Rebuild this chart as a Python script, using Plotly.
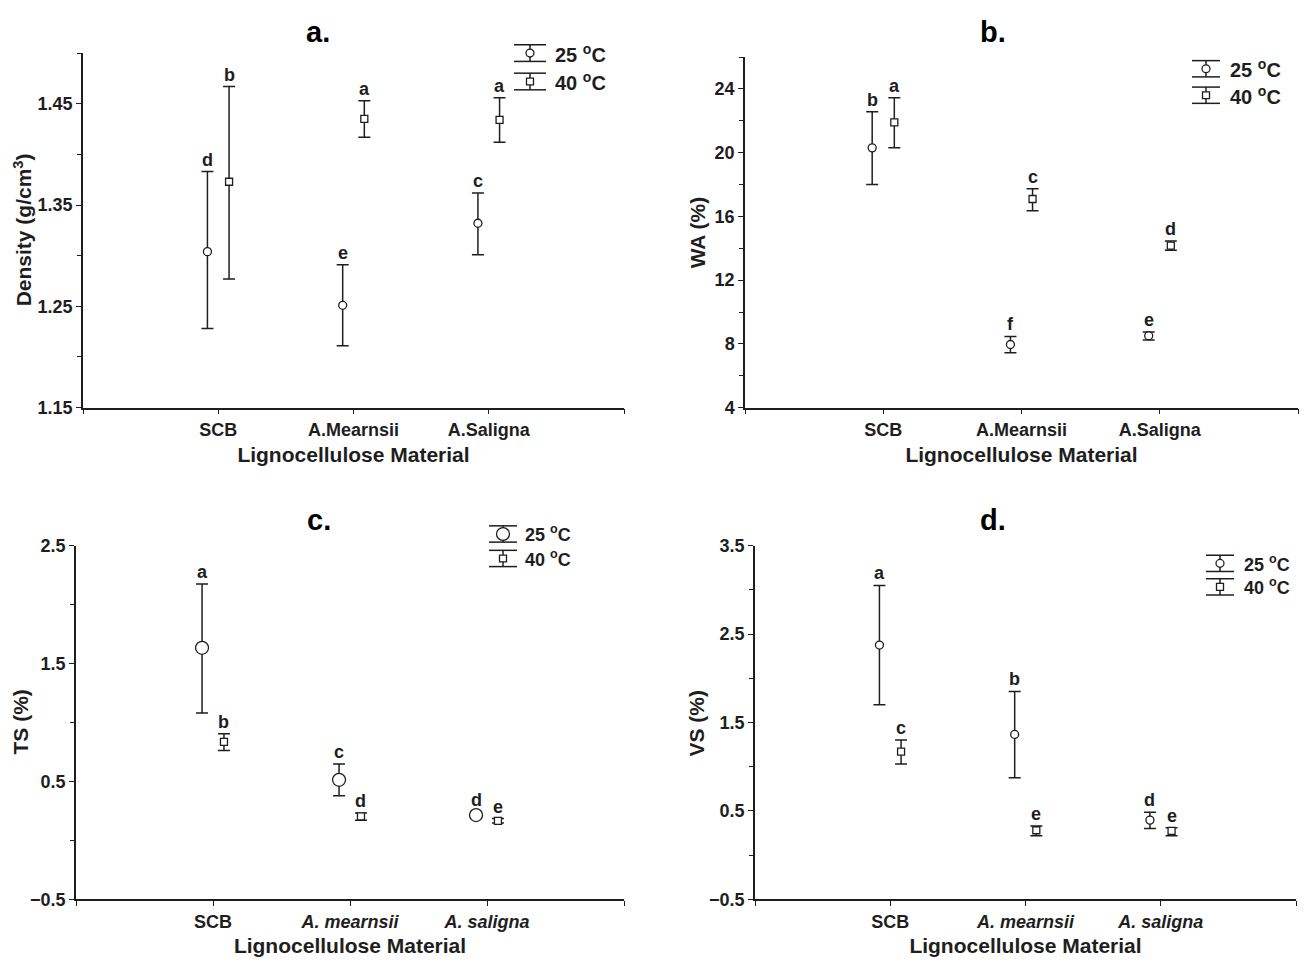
import plotly.graph_objects as go

W, H = 1306, 971
INK = "#1e1e1e"
FONT = "Liberation Sans, Arial, sans-serif"

# ---- data -------------------------------------------------------------
cats_top = ["SCB", "A.Mearnsii", "A.Saligna"]
cats_bottom = ["SCB", "<i>A. mearnsii</i>", "<i>A. saligna</i>"]

density_25 = [1.304, 1.251, 1.332]
density_25_hi = [1.383, 1.291, 1.362]
density_25_lo = [1.228, 1.211, 1.301]
density_40 = [1.373, 1.435, 1.434]
density_40_hi = [1.467, 1.453, 1.456]
density_40_lo = [1.277, 1.417, 1.412]
density_25_grp = ["d", "e", "c"]
density_40_grp = ["b", "a", "a"]

wa_25 = [20.3, 7.96, 8.51]
wa_25_hi = [22.57, 8.47, 8.74]
wa_25_lo = [18.0, 7.45, 8.25]
wa_40 = [21.9, 17.09, 14.17]
wa_40_hi = [23.45, 17.74, 14.46]
wa_40_lo = [20.3, 16.35, 13.87]
wa_25_grp = ["b", "f", "e"]
wa_40_grp = ["a", "c", "d"]

ts_25 = [1.634, 0.514, 0.215]
ts_25_hi = [2.176, 0.647, 0.240]
ts_25_lo = [1.081, 0.379, 0.190]
ts_40 = [0.835, 0.204, 0.166]
ts_40_hi = [0.904, 0.232, 0.185]
ts_40_lo = [0.763, 0.171, 0.147]
ts_25_grp = ["a", "c", "d"]
ts_40_grp = ["b", "d", "e"]

vs_25 = [2.376, 1.365, 0.396]
vs_25_hi = [3.051, 1.852, 0.484]
vs_25_lo = [1.701, 0.875, 0.300]
vs_40 = [1.170, 0.281, 0.274]
vs_40_hi = [1.303, 0.330, 0.310]
vs_40_lo = [1.030, 0.219, 0.219]
vs_25_grp = ["a", "b", "d"]
vs_40_grp = ["c", "e", "e"]

positions = [1, 2, 3]
shift = 0.08


def px(x, y):
    """pixel position -> paper coordinates"""
    return x / W, 1 - y / H


fig = go.Figure()

# pixel boxes of each plotting area (left, right, top, bottom)
panels = [
    dict(ax="", box=(83, 624, 44, 406), yr=[1.15, 1.50], dt=0.1, t0=1.15, mdt=0.05,
         cats=cats_top, ytitle="Density (g/cm<sup>3</sup>)", ytx=23, label="a.", lab_xy=(318, 22),
         s25=(density_25, density_25_hi, density_25_lo, density_25_grp),
         s40=(density_40, density_40_hi, density_40_lo, density_40_grp),
         csize=8, fmt=".2f",
         leg=dict(cx=530, cy=(44, 73), hw=16, hh=8.5, tx=553, fs=20)),
    dict(ax="2", box=(745, 1298, 48, 406), yr=[4, 26], dt=4, t0=4, mdt=2,
         cats=cats_top, ytitle="WA (%)", ytx=697, label="b.", lab_xy=(993, 22),
         s25=(wa_25, wa_25_hi, wa_25_lo, wa_25_grp),
         s40=(wa_40, wa_40_hi, wa_40_lo, wa_40_grp),
         csize=8, fmt="d",
         leg=dict(cx=1206, cy=(60, 87), hw=14, hh=8.3, tx=1228, fs=20)),
    dict(ax="3", box=(76, 624, 547, 908), yr=[-0.5, 2.5], dt=1, t0=-0.5, mdt=0.5,
         cats=cats_bottom, ytitle="TS (%)", ytx=21, label="c.", lab_xy=(319, 521),
         s25=(ts_25, ts_25_hi, ts_25_lo, ts_25_grp),
         s40=(ts_40, ts_40_hi, ts_40_lo, ts_40_grp),
         csize=13, fmt=".1f",
         leg=dict(cx=503, cy=(535, 560), hw=14, hh=8.3, tx=523, fs=18)),
    dict(ax="4", box=(755, 1296, 547, 908), yr=[-0.5, 3.5], dt=1, t0=-0.5, mdt=0.5,
         cats=cats_bottom, ytitle="VS (%)", ytx=697, label="d.", lab_xy=(993, 521),
         s25=(vs_25, vs_25_hi, vs_25_lo, vs_25_grp),
         s40=(vs_40, vs_40_hi, vs_40_lo, vs_40_grp),
         csize=8, fmt=".1f",
         leg=dict(cx=1220, cy=(565, 589), hw=14, hh=8.3, tx=1242, fs=18)),
]

annotations = []
shapes = []
line_kw = dict(color=INK, width=1.5)
tick_font = dict(family=FONT, size=18, color=INK, weight="bold")

for p in panels:
    xa, ya = "x" + p["ax"], "y" + p["ax"]
    l, r, t, b = p["box"]
    x0, y1 = px(l, t)
    x1, y0 = px(r, b)
    xkey = "xaxis" + p["ax"]
    ykey = "yaxis" + p["ax"]

    fig.update_layout({
        xkey: dict(domain=[x0, x1], anchor=ya, range=[0, 4],
                   tickvals=[0, 1, 2, 3, 4],
                   ticktext=[""] + [f"<b>{c}</b>" for c in p["cats"]] + [""],
                   showline=True, linecolor=INK, linewidth=1.5, ticks="outside",
                   ticklen=5, tickwidth=1.2, tickcolor=INK, showgrid=False, zeroline=False,
                   tickfont=tick_font,
                   title=dict(text="<b>Lignocellulose Material</b>",
                              font=dict(family=FONT, size=21, color=INK), standoff=8)),
        ykey: dict(domain=[y0, y1], anchor=xa, range=p["yr"], tick0=p["t0"], dtick=p["dt"],
                   showline=True, linecolor=INK, linewidth=1.5, ticks="outside",
                   ticklen=5, tickwidth=1.2, tickcolor=INK, showgrid=False, zeroline=False,
                   tickformat=p["fmt"], tickfont=tick_font,
                   minor=dict(dtick=p["mdt"], tick0=p["t0"], ticks="outside", ticklen=4,
                              tickwidth=1.2, tickcolor=INK, showgrid=False)),
    })

    for (vals, hi, lo, grp), off, sym, size in (
        (p["s25"], -shift, "circle", p["csize"]),
        (p["s40"], shift, "square", 7),
    ):
        xs = [c + off for c in positions]
        fig.add_trace(go.Scatter(
            x=xs, y=vals, mode="markers", xaxis=xa, yaxis=ya, showlegend=False,
            marker=dict(symbol=sym, size=size, color="white",
                        line=dict(color=INK, width=1.3)),
            error_y=dict(type="data", symmetric=False,
                         array=[h - v for h, v in zip(hi, vals)],
                         arrayminus=[v - w for v, w in zip(vals, lo)],
                         color=INK, thickness=1.5, width=6),
        ))
        for xv, hv, g in zip(xs, hi, grp):
            annotations.append(dict(x=xv, y=hv, xref=xa, yref=ya, text=f"<b>{g}</b>",
                                    showarrow=False, xanchor="center", yanchor="bottom", yshift=0,
                                    font=dict(family=FONT, size=18, color=INK)))

    # panel letter
    lx, ly = px(*p["lab_xy"])
    annotations.append(dict(x=lx, y=ly, xref="paper", yref="paper", text=f"<b>{p['label']}</b>",
                            showarrow=False, xanchor="center", yanchor="middle",
                            font=dict(family=FONT, size=29, color="black")))
    # y-axis title
    tx, ty = px(p["ytx"], (t + b) / 2)
    annotations.append(dict(x=tx, y=ty, xref="paper", yref="paper", text=f"<b>{p['ytitle']}</b>",
                            textangle=-90, showarrow=False, xanchor="center", yanchor="middle",
                            font=dict(family=FONT, size=21, color=INK)))

    # key: error-bar glyph with marker and temperature label
    lg = p["leg"]
    for cy, kind, msize, text in ((lg["cy"][0], "circle", p["csize"], "25 <sup>o</sup>C"),
                                  (lg["cy"][1], "rect", 7, "40 <sup>o</sup>C")):
        cx, hw, hh = lg["cx"], lg["hw"], lg["hh"]
        for yy in (cy - hh, cy + hh):
            a0, b0 = px(cx - hw, yy)
            a1, b1 = px(cx + hw, yy)
            shapes.append(dict(type="line", xref="paper", yref="paper", x0=a0, y0=b0, x1=a1, y1=b1,
                               line=line_kw))
        a0, b0 = px(cx, cy - hh)
        a1, b1 = px(cx, cy + hh)
        shapes.append(dict(type="line", xref="paper", yref="paper", x0=a0, y0=b0, x1=a1, y1=b1,
                           line=line_kw))
        a0, b0 = px(cx - msize / 2, cy - msize / 2)
        a1, b1 = px(cx + msize / 2, cy + msize / 2)
        shapes.append(dict(type=kind, xref="paper", yref="paper", x0=a0, y0=b1, x1=a1, y1=b0,
                           fillcolor="white", line=dict(color=INK, width=1.3)))
        tx, ty = px(lg["tx"], cy)
        annotations.append(dict(x=tx, y=ty, xref="paper", yref="paper", text=f"<b>{text}</b>",
                                xanchor="left", yanchor="middle", showarrow=False,
                                font=dict(family=FONT, size=lg["fs"], color=INK)))

fig.update_layout(
    width=W, height=H, autosize=False,
    margin=dict(l=0, r=0, t=0, b=0),
    paper_bgcolor="white", plot_bgcolor="white",
    annotations=annotations, shapes=shapes,
    font=dict(family=FONT, color=INK),
)

fig.write_html("out.html")
